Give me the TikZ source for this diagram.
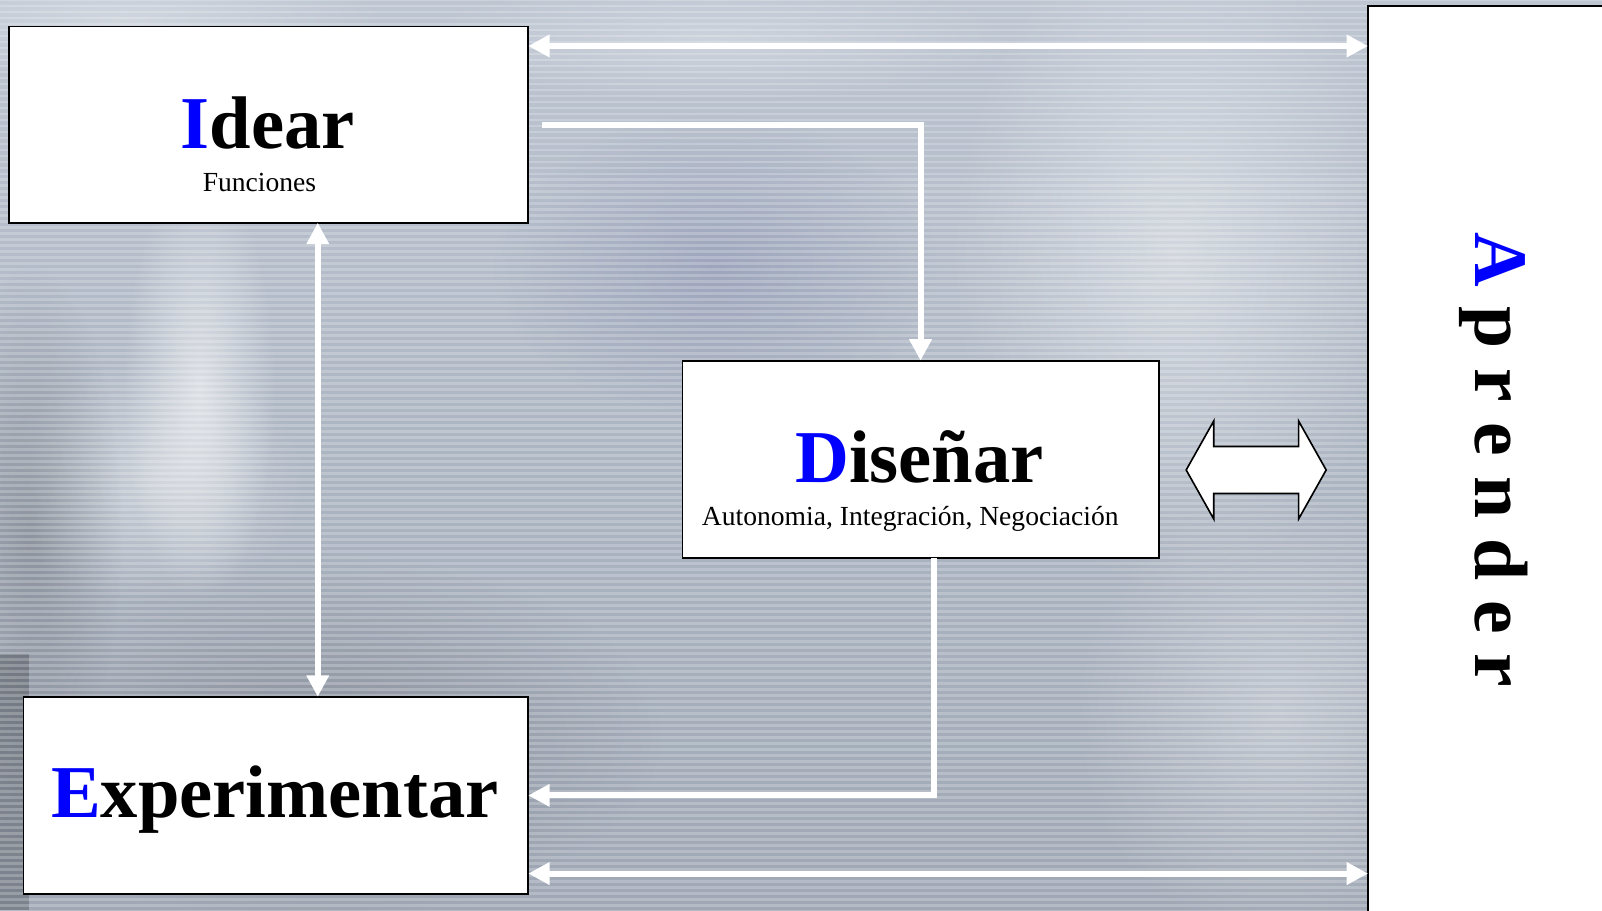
\documentclass[tikz,border=0pt]{standalone}
\usepackage{fontspec}
\setmainfont{Liberation Serif}
\usetikzlibrary{arrows.meta,fadings,calc}
\definecolor{tblue}{RGB}{0,0,255}
\definecolor{bgtop}{RGB}{190,198,210}
\definecolor{bgmid}{RGB}{172,181,194}
\definecolor{bgbot}{RGB}{160,168,181}
\tikzfading[name=softglow, inner color=transparent!0, outer color=transparent!100]
\begin{document}
\begin{tikzpicture}[x=0.5pt,y=-0.5pt,
  box/.style={draw=black, line width=0.9pt, fill=white, inner sep=0pt, outer sep=0pt, anchor=north west},
  big/.style={font=\fontsize{36.5}{40}\selectfont\bfseries, inner sep=0pt, anchor=base},
  small/.style={font=\fontsize{13.5}{16}\selectfont, inner sep=0pt, anchor=base},
  wline/.style={draw=white, line width=2.9pt},
  warr/.style={wline, arrows={-Triangle[width=10.5pt,length=10.5pt]}},
  wboth/.style={wline, arrows={Triangle[width=10.5pt,length=10.5pt]-Triangle[width=10.5pt,length=10.5pt]}},
  glow/.style={path fading=softglow},
  blockarr/.style={draw=black, line width=0.8pt, fill=white, line join=miter}
]
\useasboundingbox (0,0) rectangle (1568,891);
\clip (0,0) rectangle (1568,891);
% ---------- background ----------
\shade[top color=bgtop, bottom color=bgbot, middle color=bgmid] (0,0) rectangle (1568,891);
\fill[white, opacity=0.55, glow] (195,380) ellipse (75 and 210);
\fill[white, opacity=0.35, glow] (150,470) ellipse (150 and 120);
\fill[white, opacity=0.30, glow] (120,20) ellipse (260 and 60);
\fill[white, opacity=0.40, glow] (1150,250) ellipse (220 and 330);
\fill[white, opacity=0.30, glow] (1250,700) ellipse (200 and 220);
\fill[white, opacity=0.25, glow] (700,40) ellipse (300 and 60);
\fill[black!60!blue, opacity=0.12, glow] (700,260) ellipse (220 and 150);
\fill[black, opacity=0.18, glow] (30,520) ellipse (90 and 260);
\fill[black, opacity=0.15, glow] (300,720) ellipse (350 and 180);
\fill[black, opacity=0.22] (0,640) rectangle (28,891);
\foreach \i in {0,...,152} {
  \draw[white, opacity=0.22, line width=1.4pt] (0,\i*5.87) -- (1568,\i*5.87);
}
% ---------- boxes ----------
\node[box, minimum width=254pt, minimum height=96pt] (idear) at (9,26) {};
\node[box, minimum width=233pt, minimum height=96.5pt] (disenar) at (668,353) {};
\node[box, minimum width=247pt, minimum height=96.5pt] (experimentar) at (23,682) {};
\node[box, minimum width=150pt, minimum height=460pt] (aprender) at (1339,6) {};
% ---------- texts ----------
\node[big] (idearT) at (262,145) {\textcolor{tblue}{I}dear};
\node[small] (idearS) at (254,187) {Funciones};
\node[big] (disenarT) at (900,472) {\textcolor{tblue}{D}iseñar};
\node[small] (disenarS) at (891,514) {Autonomia, Integración, Negociación};
\node[big] (experimentarT) at (269,800) {\textcolor{tblue}{E}xperimentar};
\node[rotate=-90, font=\fontsize{37}{40}\selectfont\bfseries, inner sep=0pt] (aprenderT) at (1462,450)
  {\textcolor{tblue}{A}\hspace{9.8pt}p\hspace{9.8pt}r\hspace{9.8pt}e\hspace{9.8pt}n\hspace{9.8pt}d\hspace{9.8pt}e\hspace{9.8pt}r};
% ---------- connectors ----------
\coordinate (topA) at ($(idear.north east)+(0,19)$);
\coordinate (botA) at ($(experimentar.south east)+(0,-20)$);
\draw[wboth] (topA) -- (topA -| aprender.west);
\draw[wboth] (botA) -- (botA -| aprender.west);
\coordinate (vA) at ($(idear.south west)+(302,0)$);
\draw[wboth] (vA) -- (vA |- experimentar.north);
\coordinate (e1) at ($(idear.east)+(13,0)$);
\draw[warr] (e1) -| (disenar.north);
\coordinate (e2) at ($(disenar.south)+(13,0)$);
\draw[warr] (e2) |- (experimentar.east);
% ---------- block double arrow ----------
\draw[blockarr] (1161,460) -- (1188,412) -- (1188,437) -- (1271,437) -- (1271,412) -- (1298,460)
  -- (1271,508) -- (1271,483) -- (1188,483) -- (1188,508) -- cycle;
\end{tikzpicture}
\end{document}
